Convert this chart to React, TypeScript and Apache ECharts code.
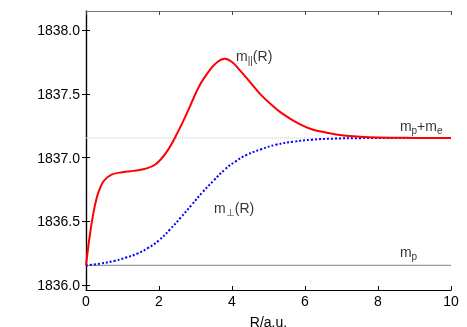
import React, { useEffect, useRef } from "react";
import * as echarts from "echarts";

const rPar = [0, 0.1, 0.2, 0.3, 0.4, 0.5, 0.7, 1.0, 1.3, 1.6, 1.9, 2.2, 2.5, 2.8, 3.1, 3.4, 3.6, 3.8, 4.0, 4.2, 4.5, 4.8, 5.1, 5.4, 5.8, 6.2, 6.6, 7.0, 7.5, 8.0, 9.0, 10];
const mPar = [1836.153, 1836.38, 1836.56, 1836.69, 1836.77, 1836.82, 1836.865, 1836.885, 1836.895, 1836.91, 1836.945, 1837.04, 1837.19, 1837.37, 1837.56, 1837.69, 1837.75, 1837.775, 1837.75, 1837.69, 1837.59, 1837.49, 1837.41, 1837.34, 1837.27, 1837.22, 1837.195, 1837.175, 1837.163, 1837.157, 1837.154, 1837.153];

const rPerp = [0, 0.4, 0.8, 1.1, 1.4, 1.7, 2.0, 2.3, 2.6, 2.9, 3.2, 3.5, 3.8, 4.1, 4.4, 4.8, 5.2, 5.7, 6.2, 6.8, 7.5, 8.5, 10];
const mPerp = [1836.153, 1836.168, 1836.19, 1836.215, 1836.245, 1836.29, 1836.35, 1836.435, 1836.53, 1836.63, 1836.73, 1836.82, 1836.905, 1836.97, 1837.02, 1837.065, 1837.10, 1837.125, 1837.14, 1837.148, 1837.152, 1837.153, 1837.153];

const mp = 1836.153;
const mpme = 1837.153;
const yTicks = [1836.0, 1836.5, 1837.0, 1837.5, 1838.0];

const FONT = "Liberation Sans";

export default function App() {
  const ref = useRef<HTMLDivElement>(null);
  useEffect(() => {
    const chart = echarts.init(ref.current!, null, { renderer: "svg" });
    const rich = {
      b: { fontSize: 14, fontFamily: FONT, color: "#000", lineHeight: 18 },
      s: { fontSize: 10, fontFamily: FONT, color: "#000", lineHeight: 18, padding: [9, 0, 0, 0] },
    };
    const label = (x: number, y: number, txt: string) => ({
      value: [x, y],
      label: { show: true, position: "right", distance: 0, formatter: txt, rich },
    });
    chart.setOption({
      animation: false,
      grid: { left: 86, right: 16, top: 11, bottom: 37, outerBoundsMode: "none", containLabel: false },
      xAxis: [
        {
          type: "value", min: 0, max: 10, interval: 2,
          name: "R/a.u.", nameLocation: "middle", nameGap: 25,
          nameTextStyle: { fontSize: 14, fontFamily: FONT, color: "#000" },
          axisLine: { lineStyle: { color: "#000", width: 1.2 } },
          axisTick: { inside: true, length: 4, lineStyle: { color: "#000" } },
          axisLabel: { fontSize: 14, fontFamily: FONT, color: "#000", margin: 4 },
          splitLine: { show: false },
        },
        {
          type: "value", min: 0, max: 10, interval: 2, position: "top",
          axisLine: { onZero: false, lineStyle: { color: "#777", width: 1.2 } },
          axisTick: { inside: true, length: 4, lineStyle: { color: "#444" } },
          axisLabel: { show: false },
          splitLine: { show: false },
        },
      ],
      yAxis: [
        {
          type: "value", min: 1835.96, max: 1838.15,
          axisLine: { show: true, lineStyle: { color: "#000", width: 1.2 } },
          axisTick: { show: true, inside: true, length: 4, customValues: yTicks, lineStyle: { color: "#000" } },
          axisLabel: { fontSize: 14, fontFamily: FONT, color: "#000", margin: 6, customValues: yTicks, formatter: (v: number) => v.toFixed(1) },
          splitLine: { show: false },
        },
        {
          type: "value", min: 1835.96, max: 1838.15, position: "right",
          axisLine: { show: true, lineStyle: { color: "#000", width: 1.2 } },
          axisTick: { show: true, inside: true, length: 4, customValues: yTicks, lineStyle: { color: "#000" } },
          axisLabel: { show: false },
          splitLine: { show: false },
        },
      ],
      series: [
        {
          type: "line", data: [[0, mpme], [10, mpme]], symbol: "none",
          lineStyle: { color: "#ccc", width: 1, type: "dotted" }, z: 1,
        },
        {
          type: "line", data: [[0, mp], [10, mp]], symbol: "none",
          lineStyle: { color: "#999", width: 1.3 }, z: 1,
        },
        {
          type: "line", data: rPerp.map((r, i) => [r, mPerp[i]]), symbol: "none", smooth: 0.5,
          lineStyle: { color: "#0000ff", width: 2, type: "dotted" }, z: 2,
        },
        {
          type: "line", data: rPar.map((r, i) => [r, mPar[i]]), symbol: "none", smooth: 0.4,
          lineStyle: { color: "#ff0000", width: 2 }, z: 3,
        },
        {
          type: "scatter", symbolSize: 0, silent: true,
          data: [
            label(4.11, 1837.80, "{b|m}{s|||}{b|(R)}"),
            label(3.51, 1836.60, "{b|m}{s|⊥}{b|(R)}"),
            label(8.6, 1837.25, "{b|m}{s|p}{b|+m}{s|e}"),
            label(8.6, 1836.26, "{b|m}{s|p}"),
          ],
        },
      ],
    });
    return () => chart.dispose();
  }, []);
  return (
    <div
      ref={ref}
      style={{ position: "fixed", left: 0, top: 0, width: 467, height: 327 }}
    />
  );
}
